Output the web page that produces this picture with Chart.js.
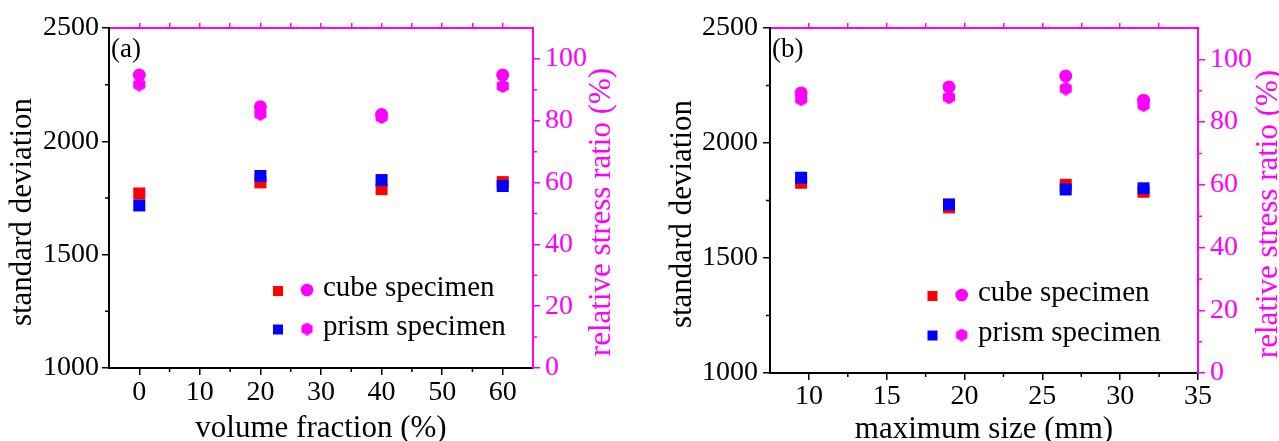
<!DOCTYPE html>
<html>
<head>
<meta charset="utf-8">
<script src="https://cdn.jsdelivr.net/npm/chart.js@4.4.1/dist/chart.umd.min.js"></script>
<style>
  html, body { margin: 0; padding: 0; background: #fff; }
  #wrap { position: relative; width: 1279px; height: 441px; overflow: hidden; }
  #panelA { position: absolute; left: 0; top: 0; }
  #panelB { position: absolute; left: 640px; top: 0; }
</style>
</head>
<body>
<div id="wrap">
  <canvas id="panelA" width="640" height="441"></canvas>
  <canvas id="panelB" width="639" height="441"></canvas>
</div>
<script>
// ---- data, panel (a): volume fraction ----
const volFraction = [0, 20, 40, 60];
const sdCubeA = [1770, 1819, 1789, 1820];
const sdPrismA = [1717, 1847, 1829, 1803];
const ratioCubeA = [94.8, 84.5, 82.0, 94.8];
const ratioPrismA = [91.7, 82.2, 81.2, 91.2];

// ---- data, panel (b): maximum size ----
const maxSize = [9.5, 19, 26.5, 31.5];
const sdCubeB = [1827, 1720, 1818, 1788];
const sdPrismB = [1849, 1733, 1798, 1803];
const ratioCubeB = [89.3, 91.2, 94.7, 87.0];
const ratioPrismB = [87.3, 87.9, 90.7, 85.4];

// ---- ticks ----
const xTicksA = [0, 10, 20, 30, 40, 50, 60];
const xMinorA = [5, 15, 25, 35, 45, 55];
const xTopA = [0, 5, 10, 15, 20, 25, 30, 35, 40, 45, 50, 55, 60];
const xTicksB = [10, 15, 20, 25, 30, 35];
const xMinorB = [12.5, 17.5, 22.5, 27.5, 32.5];
const xTopB = [10, 12.5, 15, 17.5, 20, 22.5, 25, 27.5, 30, 32.5];
const sdTicks = [1000, 1500, 2000, 2500];
const sdMinor = [1250, 1750, 2250];
const ratioTicks = [0, 20, 40, 60, 80, 100];
const ratioMinor = [10, 30, 50, 70, 90];

const MAGENTA = "#ff00ff";
const FONT = "'Liberation Serif', 'Times New Roman', serif";
Chart.defaults.font.family = FONT;
Chart.defaults.color = "#000";

// hexagon marker (pointy top) for prism ratio
function hexagon(size) {
  const c = document.createElement("canvas");
  c.width = size;
  c.height = size;
  const g = c.getContext("2d");
  const r = size / 2;
  g.fillStyle = MAGENTA;
  g.beginPath();
  for (let i = 0; i < 6; i++) {
    const a = Math.PI / 2 + (i * Math.PI) / 3;
    const px = r + r * Math.cos(a);
    const py = r + r * Math.sin(a);
    if (i === 0) g.moveTo(px, py);
    else g.lineTo(px, py);
  }
  g.closePath();
  g.fill();
  return c;
}
const hexPlot = hexagon(14);
const hexLegend = hexagon(13);

function pts(xs, ys) {
  return xs.map((v, i) => ({ x: v, y: ys[i] }));
}
function fixedTicks(values) {
  return (scale) => {
    scale.ticks = values.map((v) => ({ value: v }));
  };
}
// plain numbers, no thousands separator
const plain = (v) => String(v);

// minor ticks, y titles, panel letter and legend
const extras = {
  id: "extras",
  afterDraw(chart) {
    const o = chart.config._config.extras;
    const ctx = chart.ctx;
    const { left, right, top, bottom } = chart.chartArea;
    const sx = chart.scales.x;
    const sy = chart.scales.y;
    const sy1 = chart.scales.y1;
    ctx.save();
    ctx.lineWidth = 1.5;
    ctx.strokeStyle = "#000";
    ctx.beginPath();
    o.xMinor.forEach((v) => {
      const p = sx.getPixelForValue(v);
      ctx.moveTo(p, bottom);
      ctx.lineTo(p, bottom + 4);
    });
    sdMinor.forEach((v) => {
      const p = sy.getPixelForValue(v);
      ctx.moveTo(left, p);
      ctx.lineTo(left - 4, p);
    });
    ctx.stroke();
    ctx.strokeStyle = MAGENTA;
    ctx.beginPath();
    ratioMinor.forEach((v) => {
      const p = sy1.getPixelForValue(v);
      ctx.moveTo(right, p);
      ctx.lineTo(right + 4, p);
    });
    ctx.stroke();

    // panel letter
    ctx.fillStyle = "#000";
    ctx.font = "27px " + FONT;
    ctx.textAlign = "left";
    ctx.textBaseline = "alphabetic";
    ctx.fillText(o.letter, left + 2, top + 29);

    // y axis titles (both read bottom to top)
    ctx.font = "31px " + FONT;
    ctx.textAlign = "center";
    ctx.textBaseline = "middle";
    ctx.save();
    ctx.translate(o.leftTitle[0], o.leftTitle[1]);
    ctx.rotate(-Math.PI / 2);
    ctx.fillText("standard deviation", 0, 0);
    ctx.restore();
    ctx.save();
    ctx.fillStyle = MAGENTA;
    ctx.translate(o.rightTitle[0], o.rightTitle[1]);
    ctx.rotate(-Math.PI / 2);
    ctx.fillText("relative stress ratio (%)", 0, 0);
    ctx.restore();

    // legend
    const lg = o.legend;
    ctx.font = "29px " + FONT;
    ctx.textAlign = "left";
    ctx.textBaseline = "alphabetic";
    ctx.fillStyle = "#ff0000";
    ctx.fillRect(lg.sqX - 5, lg.row1 - 5, 10, 10);
    ctx.fillStyle = "#0000ff";
    ctx.fillRect(lg.sqX - 5, lg.row2 - 5, 10, 10);
    ctx.fillStyle = MAGENTA;
    ctx.beginPath();
    ctx.arc(lg.dotX, lg.row1 - 1, 6.3, 0, Math.PI * 2);
    ctx.fill();
    ctx.drawImage(hexLegend, lg.dotX - 6.5, lg.row2 - 7);
    ctx.fillStyle = "#000";
    ctx.fillText("cube specimen", lg.textX, lg.row1 + 5);
    ctx.fillText("prism specimen", lg.textX, lg.row2 + 5);
    ctx.restore();
  },
};

function buildPanel(id, p) {
  const ctx = document.getElementById(id).getContext("2d");
  const cfg = {
    type: "scatter",
    data: {
      datasets: [
        {
          label: "cube specimen",
          data: pts(p.x, p.sdCube),
          yAxisID: "y",
          pointStyle: "rect",
          pointRadius: 8.5,
          backgroundColor: "#ff0000",
          borderWidth: 0,
          order: 4,
        },
        {
          label: "prism specimen",
          data: pts(p.x, p.sdPrism),
          yAxisID: "y",
          pointStyle: "rect",
          pointRadius: 8.5,
          backgroundColor: "#0000ff",
          borderWidth: 0,
          order: 3,
        },
        {
          label: "cube specimen ratio",
          data: pts(p.x, p.ratioCube),
          yAxisID: "y1",
          pointStyle: "circle",
          pointRadius: 6.5,
          backgroundColor: MAGENTA,
          borderWidth: 0,
          order: 1,
        },
        {
          label: "prism specimen ratio",
          data: pts(p.x, p.ratioPrism),
          yAxisID: "y1",
          pointStyle: hexPlot,
          pointRadius: 7,
          backgroundColor: MAGENTA,
          borderWidth: 0,
          order: 2,
        },
      ],
    },
    options: {
      responsive: false,
      animation: false,
      events: [],
      layout: { padding: 0 },
      plugins: { legend: { display: false }, tooltip: { enabled: false } },
      scales: {
        x: {
          type: "linear",
          position: "bottom",
          min: p.xMin,
          max: p.xMax,
          afterBuildTicks: fixedTicks(p.xTicks),
          afterFit: (s) => { s.height = p.bottomH; },
          grid: { drawOnChartArea: false, color: "#000", tickLength: 7, lineWidth: 1.5 },
          border: { color: "#000", width: 2 },
          ticks: { font: { size: 28 }, color: "#000", padding: p.xPad, maxRotation: 0, callback: plain },
          title: {
            display: true,
            text: p.xTitle,
            font: { size: 31 },
            color: "#000",
            padding: { top: 0, bottom: p.xTitlePad },
          },
        },
        x2: {
          type: "linear",
          position: "top",
          min: p.xMin,
          max: p.xMax,
          afterBuildTicks: fixedTicks(p.xTop),
          afterFit: (s) => { s.height = 28; },
          grid: { drawOnChartArea: false, color: MAGENTA, tickLength: 5, lineWidth: 1.5 },
          border: { color: MAGENTA, width: 2 },
          ticks: { display: false },
        },
        y: {
          type: "linear",
          position: "left",
          min: 1000,
          max: 2500,
          afterBuildTicks: fixedTicks(sdTicks),
          afterFit: (s) => { s.width = p.leftW; },
          grid: { drawOnChartArea: false, color: "#000", tickLength: 7, lineWidth: 1.5 },
          border: { color: "#000", width: 2 },
          ticks: { font: { size: 28 }, color: "#000", padding: p.yPad, callback: plain },
        },
        y1: {
          type: "linear",
          position: "right",
          min: 0,
          max: 110,
          afterBuildTicks: fixedTicks(ratioTicks),
          afterFit: (s) => { s.width = p.rightW; },
          grid: { drawOnChartArea: false, color: MAGENTA, tickLength: 7, lineWidth: 1.5 },
          border: { color: MAGENTA, width: 2 },
          ticks: { font: { size: 28 }, color: MAGENTA, padding: 5, callback: plain },
        },
      },
    },
    plugins: [extras],
  };
  cfg.extras = p.extras;
  return new Chart(ctx, cfg);
}

const chartA = buildPanel("panelA", {
  x: volFraction,
  sdCube: sdCubeA,
  sdPrism: sdPrismA,
  ratioCube: ratioCubeA,
  ratioPrism: ratioPrismA,
  xMin: -5,
  xMax: 65,
  xTicks: xTicksA,
  xTop: xTopA,
  xTitle: "volume fraction (%)",
  leftW: 109,
  rightW: 107,
  bottomH: 73,
  xPad: 1,
  yPad: 3,
  xTitlePad: -6,
  extras: {
    letter: "(a)",
    xMinor: xMinorA,
    leftTitle: [23, 212],
    rightTitle: [602, 212],
    legend: { sqX: 278, dotX: 307, textX: 323, row1: 291, row2: 329.5 },
  },
});

const chartB = buildPanel("panelB", {
  x: maxSize,
  sdCube: sdCubeB,
  sdPrism: sdPrismB,
  ratioCube: ratioCubeB,
  ratioPrism: ratioPrismB,
  xMin: 7.5,
  xMax: 35,
  xTicks: xTicksB,
  xTop: xTopB,
  xTitle: "maximum size (mm)",
  leftW: 130,
  rightW: 81,
  bottomH: 68,
  xPad: 0,
  yPad: 5,
  xTitlePad: -7,
  extras: {
    letter: "(b)",
    xMinor: xMinorB,
    leftTitle: [43, 214],
    rightTitle: [629, 214],
    legend: { sqX: 292.5, dotX: 321.7, textX: 338, row1: 296, row2: 335.5 },
  },
});
</script>
</body>
</html>
